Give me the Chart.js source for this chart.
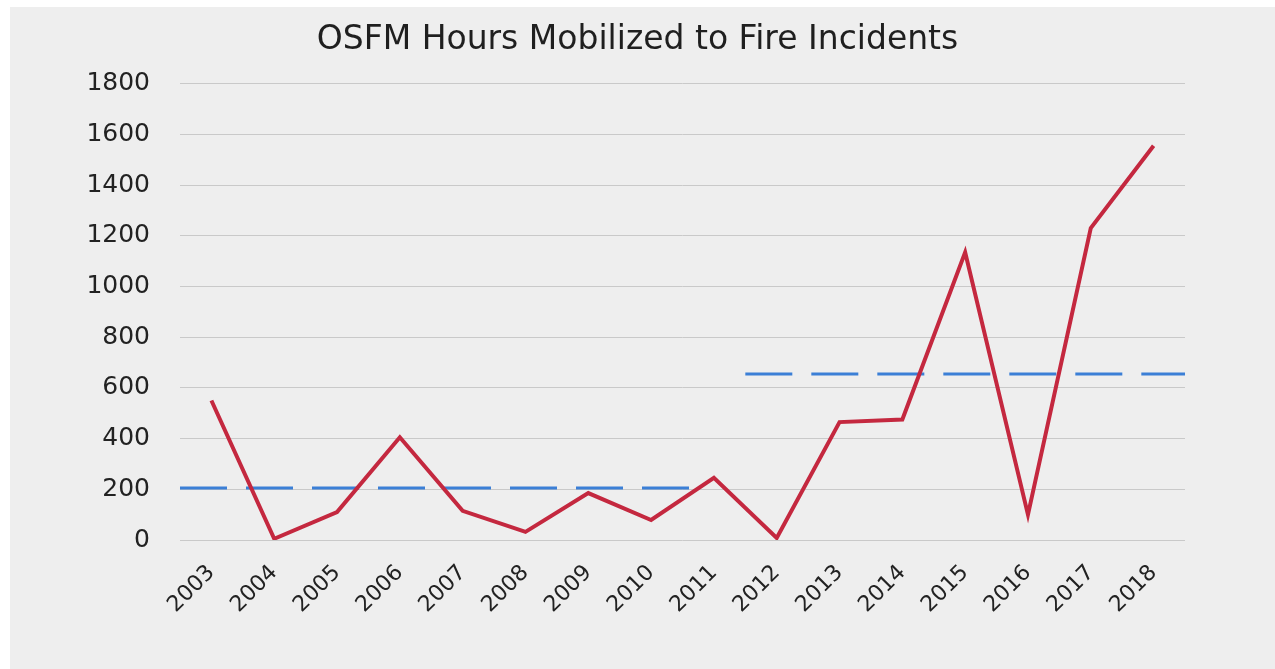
<!DOCTYPE html>
<html>
<head>
<meta charset="utf-8">
<script src="https://cdn.jsdelivr.net/npm/chart.js@4/dist/chart.umd.min.js"></script>
<style>
  html, body { margin: 0; padding: 0; background: #ffffff; }
  #wrap { width: 1275px; height: 669px; position: relative; }
</style>
</head>
<body>
<div id="wrap"><canvas id="chart"></canvas></div>
<script>
// data
const years = ['2003', '2004', '2005', '2006', '2007', '2008', '2009', '2010',
  '2011', '2012', '2013', '2014', '2015', '2016', '2017', '2018'];
const hours = [550, 5, 110, 405, 115, 32, 185, 79, 245, 8, 465, 475, 1135, 100, 1230, 1555];

// the two dashed averages: [start index, end index, value]
const avgEarly = [-0.5, 7.85, 205];
const avgLate = [8.5, 15.5, 655];

const yTicks = [0, 200, 400, 600, 800, 1000, 1200, 1400, 1600, 1800];

const hourPoints = hours.map((v, i) => ({ x: i, y: v }));
const avgLine = (a) => [{ x: a[0], y: a[2] }, { x: a[1], y: a[2] }];

// grey panel with a thin white margin at top and left
const panelBg = {
  id: 'panelBg',
  beforeDraw(chart) {
    const ctx = chart.ctx;
    ctx.save();
    ctx.fillStyle = '#ffffff';
    ctx.fillRect(0, 0, chart.width, chart.height);
    ctx.fillStyle = '#eeeeee';
    ctx.fillRect(10, 7, chart.width - 10, chart.height - 7);
    ctx.restore();
  }
};

const ctx = document.getElementById('chart').getContext('2d');
const myChart = new Chart(ctx, {
  type: 'line',
  data: {
    datasets: [
      {
        label: 'Hours',
        data: hourPoints,
        borderColor: '#c4283f',
        borderWidth: 4,
        pointRadius: 0,
        tension: 0,
        order: 0
      },
      {
        label: 'Average 2003-2011',
        data: avgLine(avgEarly),
        borderColor: '#3b7fd6',
        borderWidth: 3,
        borderDash: [47, 19],
        pointRadius: 0,
        order: 1
      },
      {
        label: 'Average 2012-2018',
        data: avgLine(avgLate),
        borderColor: '#3b7fd6',
        borderWidth: 3,
        borderDash: [47, 19],
        pointRadius: 0,
        order: 1
      }
    ]
  },
  options: {
    responsive: true,
    maintainAspectRatio: false,
    animation: false,
    layout: { padding: 0 },
    plugins: {
      legend: { display: false },
      tooltip: { enabled: false },
      title: {
        display: true,
        text: 'OSFM Hours Mobilized to Fire Incidents',
        color: '#1f1f1f',
        font: { family: 'DejaVu Sans', size: 33, weight: 'normal' },
        padding: { top: 21, bottom: 23 }
      }
    },
    scales: {
      x: {
        type: 'linear',
        min: -0.5,
        max: 15.5,
        afterBuildTicks: (scale) => {
          scale.ticks = years.map((_, i) => ({ value: i }));
        },
        afterFit: (scale) => { scale.height = 129; },
        grid: { display: false },
        border: { display: false },
        ticks: {
          autoSkip: false,
          minRotation: 45,
          maxRotation: 45,
          padding: 12,
          color: '#222222',
          font: { family: 'DejaVu Sans', size: 22 },
          callback: (v) => years[v]
        }
      },
      y: {
        min: 0,
        max: 1800,
        afterBuildTicks: (scale) => {
          scale.ticks = yTicks.map((v) => ({ value: v }));
        },
        afterFit: (scale) => { scale.width = 180; },
        grid: { color: '#c9c9c9', lineWidth: 1, drawTicks: false },
        border: { display: false },
        ticks: {
          padding: 30,
          color: '#222222',
          font: { family: 'DejaVu Sans', size: 25 },
          callback: (v) => String(v)
        }
      },
      // empty right-hand strip so the plot stops short of the edge
      yRight: {
        position: 'right',
        min: 0,
        max: 1800,
        afterFit: (scale) => { scale.width = 90; },
        grid: { display: false },
        border: { display: false },
        ticks: { display: false }
      }
    }
  },
  plugins: [panelBg]
});
</script>
</body>
</html>
